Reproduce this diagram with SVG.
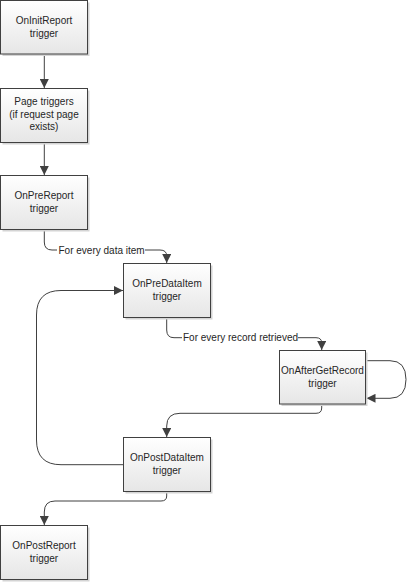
<svg xmlns="http://www.w3.org/2000/svg" width="407" height="582" viewBox="0 0 407 582">
<style>
.box{fill:url(#g);stroke:#404040;stroke-width:1}
.sh{fill:#d4d4d4}
.t{font-family:"Liberation Sans",Arial,sans-serif;font-size:10px;fill:#262626;text-anchor:middle}
.lbl{font-family:"Liberation Sans",Arial,sans-serif;font-size:10px;fill:#262626}
.c{fill:none;stroke:#404040;stroke-width:1;marker-end:url(#ah)}
.cn{fill:none;stroke:#404040;stroke-width:1}
</style>
<defs>
<linearGradient id="g" x1="0" y1="0" x2="0" y2="1">
<stop offset="0" stop-color="#ffffff"/>
<stop offset="1" stop-color="#e6e6e6"/>
</linearGradient>
<marker id="ah" markerUnits="userSpaceOnUse" markerWidth="9" markerHeight="9" refX="8" refY="4" orient="auto" viewBox="0 0 8 8">
<path d="M0,0 L8,4 L0,8 Z" fill="#404040"/>
</marker>
</defs>
<rect width="407" height="582" fill="#ffffff"/>
<g id="connectors">
<path class="c" d="M44.3,54 V88"/>
<path class="c" d="M44.3,142.5 V175"/>
<path class="c" d="M44.3,229.5 V242 Q44.3,250 52,250 H160 Q166.7,250 166.7,256 V263"/>
<path class="c" d="M166.7,317.5 V330 Q166.7,337.7 174,337.7 H316 Q321.7,337.7 321.7,343 V350"/>
<path class="c" d="M366,360.7 H390 Q406,360.7 406,379.5 Q406,398.3 390,398.3 H366.5"/>
<path class="c" d="M321.7,404 V408 Q321.7,413.3 316,413.3 H180 Q166.7,413.3 166.7,426 V437"/>
<path class="c" d="M123.5,464.7 H61 Q36.5,464.7 36.5,440 V315 Q36.5,290.5 61,290.5 H123"/>
<path class="c" d="M166.7,491.5 V496 Q166.7,501 161,501 H55 Q44.3,501 44.3,512 V525"/>
<rect x="57" y="244" width="88" height="12" fill="#ffffff"/>
<text class="lbl" x="58.5" y="253.5">For every data item</text>
<rect x="182" y="331.5" width="116" height="12" fill="#ffffff"/>
<text class="lbl" x="183" y="341">For every record retrieved</text>
</g>
<g id="n1">
<rect class="sh" x="2.5" y="2.5" width="87" height="53.5"/>
<rect class="box" x="0.5" y="0.5" width="87" height="53.5"/>
<text class="t" x="44" y="24">OnInitReport</text>
<text class="t" x="44" y="37">trigger</text>
</g>
<g id="n2">
<rect class="sh" x="2.5" y="90.5" width="87" height="54"/>
<rect class="box" x="0.5" y="88.5" width="87" height="54"/>
<text class="t" x="44" y="104.8">Page triggers</text>
<text class="t" x="44" y="117.6">(if request page</text>
<text class="t" x="44" y="130.4">exists)</text>
</g>
<g id="n3">
<rect class="sh" x="2.5" y="177.5" width="87" height="54"/>
<rect class="box" x="0.5" y="175.5" width="87" height="54"/>
<text class="t" x="44" y="199">OnPreReport</text>
<text class="t" x="44" y="212">trigger</text>
</g>
<g id="n4">
<rect class="sh" x="125.5" y="265.5" width="87" height="54"/>
<rect class="box" x="123.5" y="263.5" width="87" height="54"/>
<text class="t" x="167" y="287">OnPreDataItem</text>
<text class="t" x="167" y="300">trigger</text>
</g>
<g id="n5">
<rect class="sh" x="281.5" y="352.5" width="86" height="53.5"/>
<rect class="box" x="279.5" y="350.5" width="86" height="53.5"/>
<text class="t" x="322.5" y="374">OnAfterGetRecord</text>
<text class="t" x="322.5" y="387">trigger</text>
</g>
<g id="n6">
<rect class="sh" x="125.5" y="439.5" width="87" height="54"/>
<rect class="box" x="123.5" y="437.5" width="87" height="54"/>
<text class="t" x="167" y="461">OnPostDataItem</text>
<text class="t" x="167" y="474">trigger</text>
</g>
<g id="n7">
<rect class="sh" x="2.5" y="527.5" width="87" height="54"/>
<rect class="box" x="0.5" y="525.5" width="87" height="54"/>
<text class="t" x="44" y="549">OnPostReport</text>
<text class="t" x="44" y="562">trigger</text>
</g>
</svg>
